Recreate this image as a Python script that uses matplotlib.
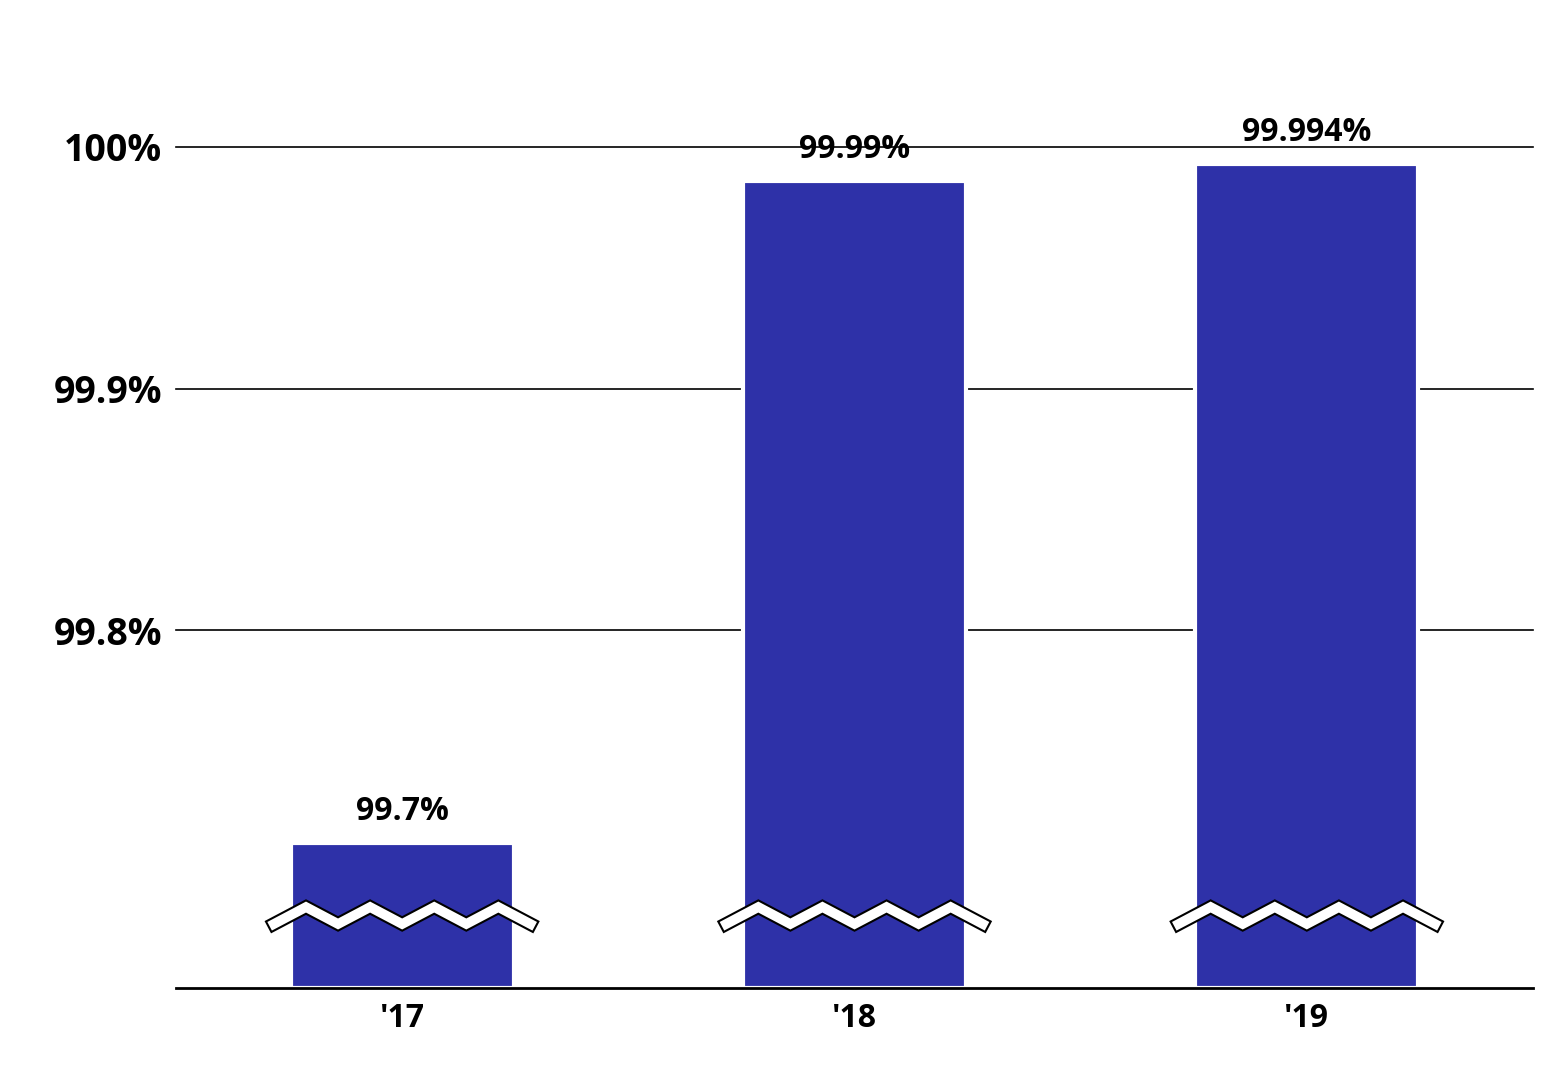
import matplotlib
matplotlib.use("Agg")
import matplotlib.pyplot as plt
import matplotlib.patheffects as pe
import numpy as np

categories = ["'17", "'18", "'19"]
values = [99.712, 99.986, 99.993]
labels = ["99.7%", "99.99%", "99.994%"]
yticks = [99.8, 99.9, 100.0]
yticklabels = ["99.8%", "99.9%", "100%"]

plt.rcParams['font.family'] = ['Open Sans', 'DejaVu Sans']
fig = plt.figure(figsize=(15.65, 10.87), dpi=100)
ax = fig.add_axes([176/1565, 1-988/1087, (1533-176)/1565, (988-147)/1087*1.0])
ymin = 99.652
ax.set_ylim(ymin, 100.0)
ax.set_xlim(-0.5, 2.5)
ax.set_yticks(yticks)
ax.set_yticklabels(yticklabels, fontsize=27, fontweight='bold')
ax.set_xticks(range(3))
ax.set_xticklabels(categories, fontsize=23, fontweight='bold')
ax.tick_params(length=0, pad=10)
for y in yticks:
    ax.axhline(y, color='black', lw=1.2, zorder=1, clip_on=False)
ax.set_ylim(ymin, 100.0)
for s in ['top', 'right', 'left']:
    ax.spines[s].set_visible(False)
ax.spines['bottom'].set_linewidth(2)
ax.spines['bottom'].set_zorder(5)
w = 0.493
x = np.arange(3)
ax.bar(x, [v - ymin for v in values], bottom=ymin, width=w, color='#2e31a8',
       edgecolor='white', linewidth=3, zorder=2)
for xi, v, l in zip(x, values, labels):
    ax.text(xi, v + 0.006, l, ha='center', va='bottom', fontsize=23, fontweight='bold')
# break marks
yb = 99.8 - (915 - 630) / 2415
amp = 0.0035
for xi in x:
    xs = np.linspace(xi - w/2 - 0.037, xi + w/2 + 0.037, 9)
    ys = yb + np.array([-amp, amp] * 5)[:9]
    ax.plot(xs, ys, color='white', lw=7, zorder=4, solid_joinstyle='miter',
            path_effects=[pe.Stroke(linewidth=10, foreground='black'), pe.Normal()])
fig.savefig("out.png", dpi=100)
